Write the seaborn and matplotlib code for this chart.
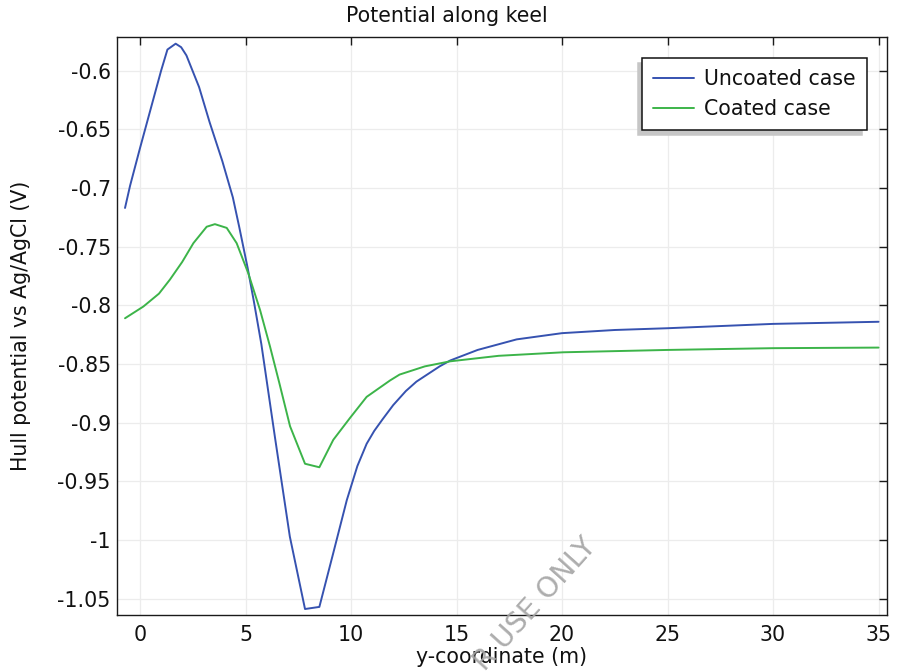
import numpy as np
import pandas as pd
import matplotlib
matplotlib.use("Agg")
import matplotlib.pyplot as plt
from matplotlib.ticker import FuncFormatter
import seaborn as sns

# ---- data ----
uncoated_x = [-0.71, -0.47, 0.0, 0.5, 1.0, 1.3, 1.69, 1.95, 2.2, 2.8, 3.3, 3.9, 4.4,
              4.7, 5.1, 5.4, 5.75, 6.4, 7.1, 7.82, 8.5, 9.16, 9.8, 10.3, 10.74,
              11.1, 11.5, 12.0, 12.6, 13.1, 14.2, 14.7, 16.0, 17.85, 20.0, 22.5,
              25.0, 30.0, 35.0]
uncoated_y = [-0.717, -0.698, -0.666, -0.633, -0.600, -0.582, -0.577, -0.580, -0.587,
              -0.614, -0.644, -0.677, -0.708, -0.733, -0.768, -0.797, -0.833, -0.913,
              -0.997, -1.0588, -1.0570, -1.011, -0.966, -0.937, -0.918, -0.907,
              -0.897, -0.885, -0.873, -0.865, -0.852, -0.847, -0.838, -0.829,
              -0.8237, -0.821, -0.8195, -0.8158, -0.814]

coated_x = [-0.71, 0.16, 0.9, 1.42, 2.0, 2.53, 3.16, 3.55, 4.11, 4.58, 5.13, 5.69,
            6.16, 6.6, 7.11, 7.82, 8.5, 9.16, 9.95, 10.74, 11.85, 12.3, 13.5, 14.7,
            17.0, 20.06, 25.0, 30.0, 35.0]
coated_y = [-0.811, -0.801, -0.790, -0.778, -0.763, -0.747, -0.733, -0.7308, -0.734,
            -0.747, -0.7726, -0.804, -0.835, -0.866, -0.903, -0.935, -0.938, -0.9146,
            -0.896, -0.878, -0.864, -0.859, -0.852, -0.8477, -0.843, -0.840, -0.838,
            -0.8365, -0.836]

series_names = ["Uncoated case", "Coated case"]
series_colors = ["#3652b0", "#3cb449"]

x_ticks = [0, 5, 10, 15, 20, 25, 30, 35]
y_ticks = [-0.6, -0.65, -0.7, -0.75, -0.8, -0.85, -0.9, -0.95, -1.0, -1.05]

title = "Potential along keel"
xlabel = "y-coordinate (m)"
ylabel = "Hull potential vs Ag/AgCl (V)"
watermark = "R USE ONLY"

# ---- figure ----
sns.set_theme(style="white")
plt.rcParams["font.family"] = ["DejaVu Sans"]
FS = 14.8

fig = plt.figure(figsize=(9.0, 6.71), dpi=100)
ax = fig.add_axes([117 / 900, 1 - 615 / 671, 770 / 900, 578 / 671])

df_u = pd.DataFrame({"x": uncoated_x, "y": uncoated_y})
df_c = pd.DataFrame({"x": coated_x, "y": coated_y})
sns.lineplot(data=df_u, x="x", y="y", ax=ax, color=series_colors[0], lw=1.4,
             sort=False, estimator=None, label=series_names[0])
sns.lineplot(data=df_c, x="x", y="y", ax=ax, color=series_colors[1], lw=1.4,
             sort=False, estimator=None, label=series_names[1])

ax.set_xlim(-1.09, 35.4)
ax.set_ylim(-1.0639, -0.5713)
ax.set_xticks(x_ticks)
ax.set_yticks(y_ticks)
fmt = FuncFormatter(lambda v, p: ("%g" % round(v, 4)).replace("\u2212", "-"))
ax.xaxis.set_major_formatter(fmt)
ax.yaxis.set_major_formatter(fmt)

ax.grid(True, color="#ececec", lw=0.9)
ax.set_axisbelow(True)
for s in ax.spines.values():
    s.set_color("#1a1a1a")
    s.set_linewidth(1.0)
ax.tick_params(axis="both", which="major", direction="in", length=5.5, width=1.0,
               color="#1a1a1a", top=True, right=True, labelsize=FS,
               labelcolor="#111111")
ax.tick_params(axis="x", pad=7)
ax.tick_params(axis="y", pad=4.5)

ax.set_xlabel(xlabel, fontsize=FS, color="#111111")
ax.set_ylabel(ylabel, fontsize=FS, color="#111111")
ax.xaxis.set_label_coords(0.5, -0.056)
ax.yaxis.set_label_coords(-0.112, 0.5)

fig.text(0.496, 1 - 16 / 671, title, ha="center", va="center", fontsize=FS,
         color="#111111")

leg = ax.legend(loc="upper right", bbox_to_anchor=(0.9736, 0.9642), borderaxespad=0,
                fontsize=FS, frameon=True, fancybox=False,
                shadow={"ox": -3.2, "oy": -3.6, "color": "#c6c6c6", "alpha": 1.0},
                handlelength=2.0, handletextpad=0.45, labelspacing=0.48,
                borderpad=0.55)
leg.get_frame().set_edgecolor("#111111")
leg.get_frame().set_linewidth(1.1)
leg.get_frame().set_facecolor("white")
for t in leg.get_texts():
    t.set_color("#111111")

# watermark
fig.text(597 / 900, 1 - 547 / 671, watermark, rotation=48, rotation_mode="anchor",
         ha="right", va="baseline", fontsize=20.5, color="#a4a4a4", alpha=0.9)

fig.savefig("out.png", dpi=100)
